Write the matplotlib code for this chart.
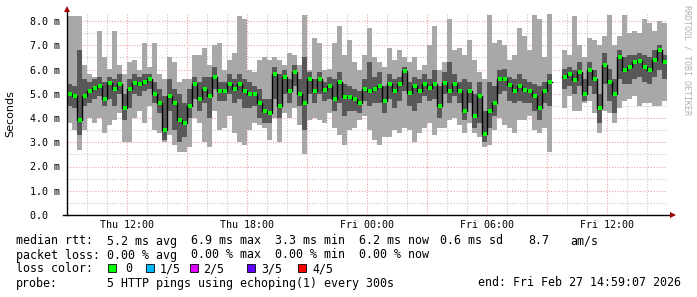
import numpy as np
import matplotlib.pyplot as plt
from matplotlib.patches import Rectangle

W, H = 697, 297
nan = np.nan

# smokeping-like samples, one every 15 minutes from Thu 09:00 to Fri 15:00 (ms)
med = [5.0, 4.9, 3.9, 4.9, 5.1, 5.25, 5.3, 4.8, 5.45, 5.2,
       5.4, 4.4, 5.2, 5.45, 5.4, 5.5, 5.6, 5.0, 4.6, 3.5,
       4.9, 4.6, 3.9, 3.8, 4.5, 5.4, 4.8, 5.2, 4.9, 5.7,
       5.1, 5.1, 5.4, 5.2, 5.4, 5.1, 5.0, 5.0, 4.6, 4.3,
       4.2, 5.8, 4.5, 5.7, 5.1, 5.9, 5.0, 4.6, 5.6, 5.1,
       5.6, 5.15, 5.3, 4.8, 5.5, 4.85, 4.85, 4.8, 4.6, 5.2,
       5.1, 5.2, 5.3, 4.7, 5.4, 5.1, 5.4, 5.95, 5.05, 5.3,
       5.1, 5.4, 5.25, 5.4, 4.5, 5.45, 5.1, 5.4, 5.1, 4.3,
       5.1, 4.1, 4.9, 3.35, 4.3, 4.6, 5.6, 5.6, 5.35, 5.1,
       5.3, 5.15, 5.1, 4.9, 4.4, 5.1, 5.5, nan, nan, 5.7,
       5.8, 5.55, 5.9, 5.0, 6.0, 5.6, 4.4, 6.2, 5.5, 5.0,
       6.5, 6.0, 6.1, 6.3, 6.35, 6.1, 6.0, 6.4, 6.8, 6.3]

q1 = [4.5, 4.4, 3.3, 4.5, 4.6, 4.8, 4.9, 4.5, 4.8, 4.5,
      5.0, 3.9, 4.4, 5.0, 4.9, 5.1, 5.2, 4.6, 4.2, 3.1,
      4.3, 3.5, 3.0, 3.2, 4.0, 4.8, 4.3, 4.6, 4.0, 5.2,
      4.7, 4.7, 5.0, 4.6, 4.8, 4.4, 4.4, 4.5, 4.0, 3.8,
      3.8, 4.8, 4.0, 5.0, 4.6, 5.3, 4.5, 3.5, 5.0, 4.6,
      5.0, 4.7, 4.8, 4.3, 4.6, 4.1, 4.3, 4.3, 4.2, 4.7,
      4.5, 4.6, 4.6, 4.2, 4.8, 4.4, 4.7, 5.1, 4.5, 4.3,
      4.6, 4.9, 4.7, 4.8, 4.0, 5.0, 4.6, 4.9, 4.6, 3.9,
      4.6, 3.6, 3.8, 3.0, 3.6, 4.1, 5.0, 5.1, 4.7, 4.6,
      4.7, 4.6, 4.6, 4.3, 3.9, 4.6, 4.5, nan, nan, 5.2,
      5.3, 5.0, 5.3, 4.7, 5.3, 5.0, 3.8, 5.4, 4.7, 4.2,
      5.6, 5.4, 5.4, 5.6, 5.7, 5.5, 5.4, 5.7, 6.0, 5.6]

q3 = [5.4, 5.3, 6.8, 5.6, 5.5, 5.6, 5.7, 5.5, 5.7, 5.6,
      5.8, 5.0, 5.6, 5.8, 5.7, 5.8, 5.8, 5.5, 5.2, 4.9,
      5.6, 5.2, 5.0, 4.6, 5.2, 5.7, 5.5, 5.7, 5.7, 6.1,
      5.5, 5.5, 5.8, 5.6, 5.8, 5.6, 5.5, 5.3, 5.2, 4.8,
      4.8, 6.1, 5.8, 6.0, 5.6, 6.2, 5.6, 6.5, 5.9, 5.6,
      5.9, 5.5, 5.7, 5.6, 5.9, 5.4, 5.3, 5.2, 5.1, 5.6,
      6.3, 5.7, 5.9, 5.3, 5.8, 5.6, 5.7, 6.1, 5.5, 5.7,
      5.6, 5.8, 5.6, 6.0, 5.3, 5.9, 6.3, 5.8, 5.5, 5.6,
      5.5, 5.0, 5.5, 4.3, 5.5, 5.3, 6.0, 6.0, 5.7, 5.6,
      5.8, 5.6, 5.5, 5.4, 5.3, 5.5, 5.8, nan, nan, 6.0,
      6.1, 6.0, 6.3, 5.6, 6.3, 6.0, 5.0, 6.7, 6.0, 5.6,
      6.8, 6.5, 6.6, 6.6, 6.7, 6.6, 6.5, 6.8, 7.0, 6.6]

lo = [3.8, 3.5, 2.7, 3.5, 4.0, 3.8, 4.0, 3.4, 3.7, 3.9,
      4.2, 3.0, 3.0, 4.0, 4.3, 3.8, 4.5, 3.5, 3.4, 3.0,
      3.3, 2.9, 2.6, 2.6, 2.8, 4.0, 3.8, 3.0, 2.8, 4.3,
      3.5, 3.6, 4.1, 3.4, 3.0, 2.9, 3.5, 3.8, 3.7, 3.6,
      3.1, 4.0, 3.0, 4.2, 4.0, 4.4, 3.7, 2.5, 3.9, 4.0,
      3.9, 3.8, 4.2, 3.6, 3.3, 2.9, 3.5, 3.6, 3.9, 4.1,
      3.5, 3.1, 2.9, 3.2, 3.2, 3.5, 3.4, 3.6, 3.5, 3.0,
      3.4, 3.6, 3.8, 3.3, 3.6, 3.6, 3.9, 4.0, 3.7, 3.4,
      3.8, 3.4, 3.2, 2.8, 2.9, 3.5, 4.0, 3.7, 3.6, 3.4,
      3.9, 3.9, 4.1, 3.5, 3.4, 3.6, 2.6, nan, nan, 4.4,
      4.9, 4.3, 4.3, 4.6, 4.7, 4.2, 3.4, 4.3, 4.2, 3.8,
      4.4, 4.7, 4.8, 4.9, 4.5, 4.6, 4.6, 4.5, 4.5, 4.7]

hi = [8.2, 8.2, 8.2, 6.2, 5.8, 5.7, 7.6, 6.5, 6.0, 7.6,
      6.2, 5.8, 6.3, 6.4, 6.0, 7.1, 6.1, 7.1, 5.8, 5.6,
      6.5, 6.3, 5.5, 5.6, 5.6, 6.6, 6.6, 6.9, 6.2, 7.0,
      7.1, 6.0, 6.4, 6.7, 8.2, 8.1, 6.0, 5.9, 6.4, 6.5,
      6.4, 6.5, 6.4, 6.2, 6.7, 6.6, 6.2, 8.25, 6.0, 7.3,
      7.1, 6.0, 6.0, 7.1, 7.8, 6.6, 7.2, 6.3, 6.0, 6.6,
      7.7, 6.5, 6.3, 6.1, 6.9, 6.4, 6.8, 6.5, 6.3, 6.5,
      6.0, 6.2, 7.0, 7.8, 6.0, 6.3, 8.1, 6.8, 6.9, 6.6,
      7.2, 6.4, 5.9, 5.6, 8.25, 7.1, 7.2, 7.0, 6.4, 6.6,
      7.7, 7.4, 6.8, 8.25, 8.1, 6.5, 8.3, nan, nan, 6.8,
      6.6, 8.2, 7.0, 6.5, 7.3, 7.2, 7.0, 7.4, 8.25, 7.0,
      7.4, 8.25, 7.5, 7.6, 7.5, 8.1, 7.9, 7.6, 8.0, 7.9]

xtick_hours = [3, 6, 9, 12, 15, 18, 21, 24, 27, 30]
xtick_labels = ['Thu 12:00', '', 'Thu 18:00', '', 'Fri 00:00', '', 'Fri 06:00', '', 'Fri 12:00', '']
ytick_vals = [0, 1, 2, 3, 4, 5, 6, 7, 8]
ytick_labels = ['0.0  ', '1.0 m', '2.0 m', '3.0 m', '4.0 m', '5.0 m', '6.0 m', '7.0 m', '8.0 m']

loss_names = ['0', '1/5', '2/5', '3/5', '4/5']
loss_colors = ['#00ff00', '#00b8ff', '#e000ff', '#6000ff', '#ff0000']

med = np.array(med); q1 = np.array(q1); q3 = np.array(q3)
lo = np.array(lo); hi = np.array(hi)
step = 0.25
hours = np.arange(len(med)) * step

mono = 'DejaVu Sans Mono'
fig = plt.figure(figsize=(W / 100, H / 100), dpi=100)
ax = fig.add_axes([67 / W, 82 / H, 600 / W, 201 / H])
ax.set_xlim(0, 30)
ax.set_ylim(0, 201 / 24.25)

# smoke
ax.bar(hours, hi - lo, bottom=lo, width=step, align='edge', color='#a8a8a8',
       linewidth=0, antialiased=False, zorder=2)
ax.bar(hours, q3 - q1, bottom=q1, width=step, align='edge', color='#585858',
       linewidth=0, antialiased=False, zorder=3)
# median
ax.plot(np.append(hours, 30), np.append(med, med[-1]), drawstyle='steps-post',
        color='black', lw=1, zorder=4)
ax.plot(hours + step / 2, med, 's', ms=2.4, mew=0, color='#00ff00', zorder=5)

# grid
ax.set_xticks(xtick_hours)
ax.set_xticklabels(xtick_labels, fontsize=7.2, family=mono)
ax.set_xticks([h for h in range(1, 30) if h % 3], minor=True)
ax.set_yticks(ytick_vals)
ax.set_yticklabels(ytick_labels, fontsize=7.2, family=mono)
ax.set_yticks(np.arange(0.5, 8.5, 1), minor=True)
ax.tick_params(which='both', length=0)
ax.tick_params(axis='x', pad=3.5)
ax.tick_params(axis='y', pad=5)
ax.grid(which='major', color='#f0a0a0', ls=(0, (1, 1.5)), lw=0.8)
ax.grid(which='minor', color='#c8c8c8', ls=(0, (1, 1.5)), lw=0.8)
ax.set_axisbelow(True)
for s in ax.spines.values():
    s.set_visible(False)

# axes with arrows
ax.plot([-4 / 600, 604 / 600], [0, 0], color='black', lw=1, transform=ax.transAxes, clip_on=False, zorder=6)
ax.plot([0, 0], [0, 206 / 201], color='black', lw=1, transform=ax.transAxes, clip_on=False, zorder=6)
ax.plot([606 / 600], [0], '>', ms=4, color='#a00000', mew=0, transform=ax.transAxes, clip_on=False, zorder=7)
ax.plot([0], [206 / 201], '^', ms=4, color='#a00000', mew=0, transform=ax.transAxes, clip_on=False, zorder=7)

fig.text(10 / W, 1 - 114 / H, 'Seconds', rotation=90, ha='center', va='center', fontsize=8)
fig.text(687 / W, 1 - 5 / H, 'RRDTOOL / TOBI OETIKER', rotation=270, ha='center', va='top',
         fontsize=6, color='#b0b0b0', family=mono)

def put(x, y, s):
    fig.text(x / W, 1 - y / H, s, ha='left', va='center', fontsize=8.4, family=mono)

put(16, 241, 'median rtt:')
for x, s in [(107, '5.2 ms avg'), (191, '6.9 ms max'), (275, '3.3 ms min'),
             (359, '6.2 ms now'), (440, '0.6 ms sd'), (528, '8.7'), (570, 'am/s')]:
    put(x, 241, s)
put(16, 255, 'packet loss:')
for x, s in [(107, '0.00 % avg'), (191, '0.00 % max'), (275, '0.00 % min'), (359, '0.00 % now')]:
    put(x, 255, s)
put(16, 269, 'loss color:')
for sx, lx, name, c in zip([108, 146, 190, 247, 298], [125, 160, 203, 261, 312], loss_names, loss_colors):
    fig.add_artist(Rectangle((sx / W, 1 - 272 / H), 8 / W, 8 / H, transform=fig.transFigure,
                             facecolor=c, edgecolor='black', lw=0.6))
    put(lx, 269, name)
put(16, 283, 'probe:')
put(107, 283, '5 HTTP pings using echoping(1) every 300s')
put(478, 283, 'end: Fri Feb 27 14:59:07 2026')

fig.savefig('out.png', dpi=100)
